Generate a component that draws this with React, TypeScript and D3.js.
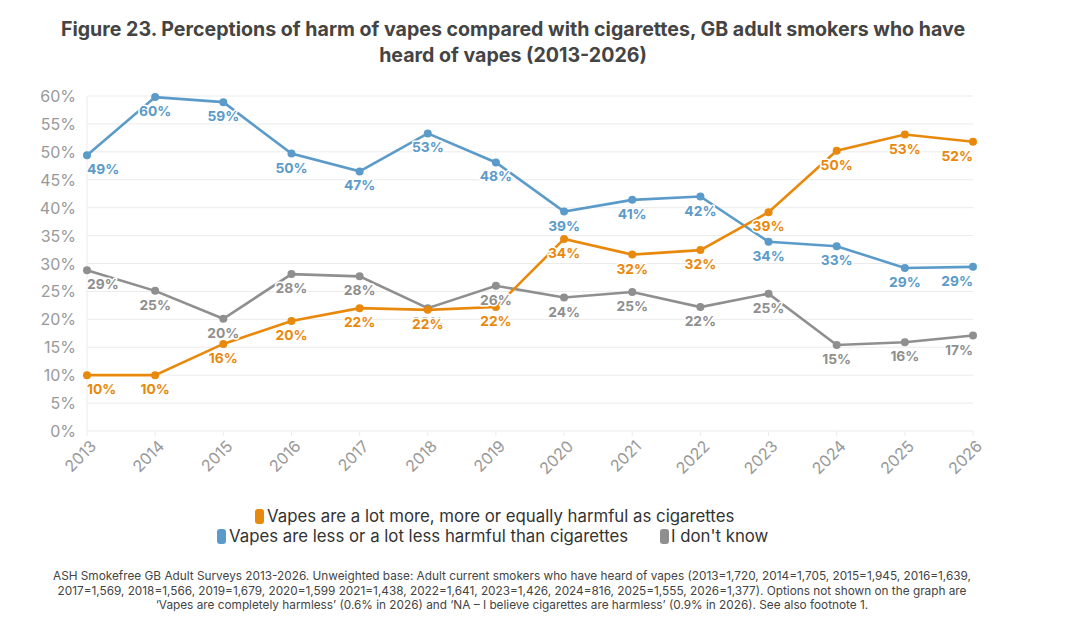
import React from "react";
import * as d3 from "d3";

const years = [2013, 2014, 2015, 2016, 2017, 2018, 2019, 2020, 2021, 2022, 2023, 2024, 2025, 2026];

// values (%)
const moreHarmful = [10.0, 10.0, 15.6, 19.7, 22.0, 21.7, 22.2, 34.4, 31.6, 32.4, 39.2, 50.2, 53.1, 51.8];
const lessHarmful = [49.4, 59.8, 58.9, 49.7, 46.5, 53.3, 48.1, 39.3, 41.4, 42.0, 33.9, 33.1, 29.2, 29.4];
const dontKnow = [28.8, 25.1, 20.1, 28.1, 27.7, 22.0, 26.0, 23.9, 24.9, 22.2, 24.6, 15.4, 15.9, 17.1];

const yTicks = [0, 5, 10, 15, 20, 25, 30, 35, 40, 45, 50, 55, 60];

const series = [
  { name: "I don't know", values: dontKnow, color: "#8f8f8f" },
  { name: "Vapes are less or a lot less harmful than cigarettes", values: lessHarmful, color: "#5b9bc9" },
  { name: "Vapes are a lot more, more or equally harmful as cigarettes", values: moreHarmful, color: "#e8890c" },
];

const footnote = [
  "ASH Smokefree GB Adult Surveys 2013-2026. Unweighted base: Adult current smokers who have heard of vapes (2013=1,720, 2014=1,705, 2015=1,945, 2016=1,639,",
  "2017=1,569, 2018=1,566, 2019=1,679, 2020=1,599 2021=1,438, 2022=1,641, 2023=1,426, 2024=816, 2025=1,555, 2026=1,377). Options not shown on the graph are",
  "\u2018Vapes are completely harmless\u2019 (0.6% in 2026) and \u2018NA \u2013 I believe cigarettes are harmless\u2019 (0.9% in 2026). See also footnote 1.",
];

const W = 1073;
const H = 626;
const FONT = "Inter, 'Noto Sans', sans-serif";

export default function App() {
  const x = d3.scaleLinear().domain([2013, 2026]).range([87, 973]);
  const y = d3.scaleLinear().domain([0, 60]).range([431, 96]);

  const line = d3
    .line<number>()
    .x((_, i) => x(years[i]))
    .y((d) => y(d));

  const legendRow1 = series[2];
  const legendRow2 = [series[1], series[0]];

  return (
    <svg
      width={W}
      height={H}
      style={{ position: "absolute", left: 0, top: 0, fontFamily: FONT }}
    >
      <rect width={W} height={H} fill="#fff" />

      {/* title */}
      <text x={513} y={36} textAnchor="middle" fontSize={19.6} fontWeight={700} fill="#444">
        Figure 23. Perceptions of harm of vapes compared with cigarettes, GB adult smokers who have
      </text>
      <text x={513} y={62} textAnchor="middle" fontSize={19.6} fontWeight={700} fill="#444">
        heard of vapes (2013-2026)
      </text>

      {/* grid + y axis */}
      {yTicks.map((t) => (
        <g key={t}>
          <line x1={x(2013)} x2={x(2026)} y1={y(t)} y2={y(t)} stroke="#ebebeb" strokeWidth={1} />
          <text
            x={76}
            y={y(t)}
            textAnchor="end"
            dominantBaseline="central"
            fontSize={16}
            fill="#999"
          >
            {t}%
          </text>
        </g>
      ))}
      <line x1={x(2013)} x2={x(2013)} y1={y(60)} y2={y(0)} stroke="#ebebeb" />

      {/* x axis */}
      {years.map((yr) => (
        <g key={yr}>
          <line x1={x(yr)} x2={x(yr)} y1={y(0)} y2={y(0) + 5} stroke="#ebebeb" />
          <text
            transform={`translate(${x(yr) + 6},${y(0) + 12}) rotate(-45)`}
            textAnchor="end"
            dominantBaseline="central"
            fontSize={16}
            fill="#999"
          >
            {yr}
          </text>
        </g>
      ))}

      {/* lines */}
      {series.map((s) => (
        <g key={s.name}>
          <path d={line(s.values) ?? ""} fill="none" stroke={s.color} strokeWidth={2.6} />
          {s.values.map((v, i) => (
            <circle key={i} cx={x(years[i])} cy={y(v)} r={4} fill={s.color} />
          ))}
        </g>
      ))}

      {/* data labels */}
      {series.map((s) => (
        <g key={s.name + "-lbl"}>
          {s.values.map((v, i) => {
            const anchor = i === 0 ? "start" : i === years.length - 1 ? "end" : "middle";
            return (
              <text
                key={i}
                x={x(years[i])}
                y={y(v) + 14}
                textAnchor={anchor}
                dominantBaseline="central"
                fontSize={13.8}
                fontWeight={700}
                fill={s.color}
                stroke="#fff"
                strokeWidth={3}
                strokeLinejoin="round"
                paintOrder="stroke"
              >
                {Math.round(v)}%
              </text>
            );
          })}
        </g>
      ))}

      {/* legend */}
      <g fontSize={16.8} fill="#333">
        <rect x={255} y={509} width={9} height={15} rx={3} fill={legendRow1.color} />
        <text x={267} y={522}>{legendRow1.name}</text>
        <rect x={217} y={529} width={9} height={15} rx={3} fill={legendRow2[0].color} />
        <text x={229} y={542}>{legendRow2[0].name}</text>
        <rect x={660} y={529} width={9} height={15} rx={3} fill={legendRow2[1].color} />
        <text x={671} y={542}>{legendRow2[1].name}</text>
      </g>

      {/* footnote */}
      {footnote.map((l, i) => (
        <text key={i} x={512} y={580 + i * 14.5} textAnchor="middle" fontSize={11.8} fill="#444">
          {l}
        </text>
      ))}
    </svg>
  );
}
